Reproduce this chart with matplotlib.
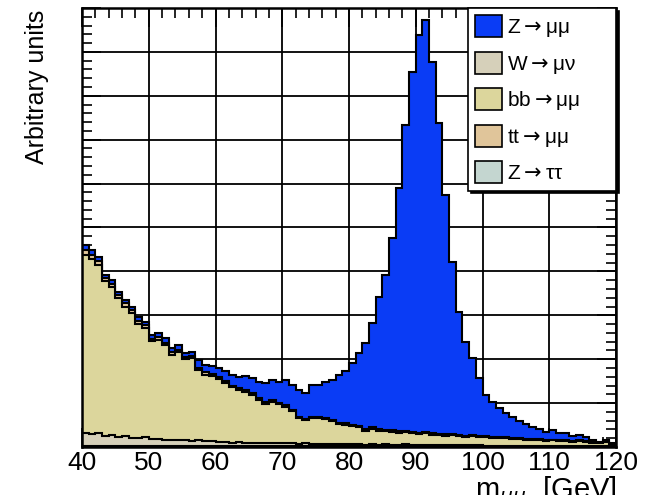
"""
Dimuon invariant mass spectrum, stacked MC samples (ROOT style)
"""

import numpy as np
import matplotlib
matplotlib.use('Agg')
import matplotlib.pyplot as plt
from matplotlib.patches import Patch
from matplotlib.ticker import MultipleLocator

plt.rcParams['font.family'] = ['Liberation Sans', 'DejaVu Sans']

# bin edges 40..120 GeV, 1 GeV bins
mass_edges = np.arange(40, 121, 1)

# per-sample contents, bins 40..119 (arbitrary units)
z_tautau = [0.03] * 20 + [0.02] * 40 + [0.01] * 20

w_munu = [0.30, 0.26, 0.28, 0.22, 0.25, 0.20, 0.21, 0.18, 0.17, 0.19,
          0.15, 0.16, 0.13, 0.14, 0.12, 0.13, 0.11, 0.12, 0.10, 0.11,
          0.09, 0.10, 0.08, 0.09, 0.08, 0.07, 0.08, 0.07, 0.06, 0.07,
          0.06, 0.06, 0.05, 0.06, 0.05, 0.05, 0.04, 0.05, 0.04, 0.05,
          0.04, 0.04, 0.03, 0.04, 0.03, 0.04, 0.03, 0.03, 0.04, 0.03,
          0.03, 0.03, 0.03, 0.03, 0.03, 0.03, 0.03, 0.03, 0.03, 0.03,
          0.02, 0.02, 0.02, 0.02, 0.02, 0.02, 0.02, 0.02, 0.02, 0.02,
          0.02, 0.02, 0.02, 0.02, 0.02, 0.02, 0.02, 0.02, 0.02, 0.02]

bb_mumu = [4.05, 3.99, 3.84, 3.52, 3.36, 3.16, 2.95, 2.84, 2.61, 2.48,
           2.23, 2.25, 2.16, 1.93, 2.02, 1.84, 1.88, 1.60, 1.52, 1.48,
           1.45, 1.34, 1.26, 1.19, 1.16, 1.09, 0.97, 0.90, 0.95, 0.88,
           0.84, 0.73, 0.59, 0.53, 0.58, 0.58, 0.58, 0.52, 0.46, 0.44,
           0.41, 0.39, 0.32, 0.36, 0.32, 0.30, 0.30, 0.28, 0.28, 0.26,
           0.25, 0.26, 0.23, 0.22, 0.21, 0.22, 0.19, 0.18, 0.19, 0.17,
           0.19, 0.18, 0.17, 0.17, 0.15, 0.16, 0.14, 0.13, 0.13, 0.11,
           0.12, 0.10, 0.10, 0.09, 0.10, 0.08, 0.06, 0.05, 0.08, 0.02]

tt_mumu = [0.10, 0.10, 0.09, 0.09, 0.08, 0.08, 0.08, 0.07, 0.07, 0.07,
           0.06, 0.06, 0.06, 0.06, 0.05, 0.05, 0.05, 0.05, 0.05, 0.04,
           0.04, 0.04, 0.04, 0.04, 0.04, 0.04, 0.04, 0.04, 0.04, 0.04,
           0.04, 0.03, 0.03, 0.03, 0.03, 0.03, 0.03, 0.03, 0.03, 0.03,
           0.03, 0.03, 0.03, 0.03, 0.03, 0.03, 0.03, 0.03, 0.03, 0.03,
           0.03, 0.03, 0.03, 0.03, 0.03, 0.03, 0.03, 0.03, 0.03, 0.03,
           0.02, 0.02, 0.02, 0.02, 0.02, 0.02, 0.02, 0.02, 0.02, 0.02,
           0.02, 0.02, 0.02, 0.02, 0.02, 0.02, 0.02, 0.02, 0.02, 0.02]

z_mumu = [0.12, 0.11, 0.08, 0.06, 0.08, 0.07, 0.08, 0.08, 0.09, 0.08,
          0.08, 0.10, 0.10, 0.09, 0.10, 0.10, 0.10, 0.18, 0.17, 0.19,
          0.19, 0.22, 0.24, 0.26, 0.32, 0.35, 0.37, 0.43, 0.46, 0.47,
          0.57, 0.57, 0.61, 0.59, 0.73, 0.73, 0.81, 0.91, 1.09, 1.19,
          1.41, 1.66, 1.97, 2.37, 3.02, 3.53, 4.38, 5.54, 6.96, 8.20,
          9.05, 9.39, 8.46, 7.08, 5.45, 3.91, 2.81, 2.13, 1.76, 1.32,
          0.94, 0.80, 0.66, 0.55, 0.49, 0.39, 0.33, 0.28, 0.22, 0.19,
          0.22, 0.16, 0.17, 0.11, 0.12, 0.09, 0.05, 0.02, 0.03, 0.02]

# stack order bottom -> top
samples = [z_tautau, w_munu, bb_mumu, tt_mumu, z_mumu]
colors = ['#c4d6d0', '#d6d0ba', '#dcd69c', '#e0c59a', '#0a3cf5']
labels = ['Z$\\rightarrow$\u03c4\u03c4', 'W$\\rightarrow$\u03bc\u03bd',
          'bb$\\rightarrow$\u03bc\u03bc', 'tt$\\rightarrow$\u03bc\u03bc',
          'Z$\\rightarrow$\u03bc\u03bc']
# legend order as in the original plot
legend_order = [4, 1, 2, 3, 0]

fig = plt.figure(figsize=(6.46, 4.95), dpi=100)
ax = fig.add_axes([82 / 646, 1 - 447 / 495, 534 / 646, 439 / 495])

# cumulative histograms, drawn largest first like THStack
cumul = np.cumsum(np.array(samples), axis=0)
for i in range(len(samples) - 1, -1, -1):
    ax.stairs(cumul[i], mass_edges, fill=True, facecolor=colors[i],
              edgecolor='black', linewidth=1.5, zorder=2)

ax.set_xlim(40, 120)
ax.set_ylim(0, 10)

ax.xaxis.set_major_locator(MultipleLocator(10))
ax.xaxis.set_minor_locator(MultipleLocator(2))
ax.yaxis.set_major_locator(MultipleLocator(1))
ax.yaxis.set_minor_locator(MultipleLocator(0.2))
ax.tick_params(which='both', direction='in', top=True, right=True, width=1.2)
ax.tick_params(which='major', length=14)
ax.tick_params(which='minor', length=7)
ax.tick_params(axis='x', labelsize=19, pad=3)
ax.tick_params(axis='y', labelleft=False)

ax.set_axisbelow(True)
ax.grid(True, which='major', color='black', linewidth=1.3, zorder=0)
for sp in ax.spines.values():
    sp.set_linewidth(1.8)
    sp.set_zorder(5)

fig.text(37 / 646, 1 - 10 / 495, 'Arbitrary units', rotation=90,
         ha='center', va='top', fontsize=18)
fig.text(617 / 646, 1 - 498 / 495, r'm$_{\mu\mu}$  [GeV]', ha='right',
         va='baseline', fontsize=21)

handles = [Patch(facecolor=colors[i], edgecolor='black', linewidth=1.2)
           for i in legend_order]
leg_labels = [labels[i] for i in legend_order]
leg_x0 = (468 - 82) / 534
leg = ax.legend(handles, leg_labels, loc='upper left',
                bbox_to_anchor=(leg_x0, 0, 1 - leg_x0, 1), mode='expand',
                borderaxespad=0, fontsize=15, handlelength=1.3, handleheight=1.25,
                labelspacing=0.6, handletextpad=0.2, borderpad=0.35,
                fancybox=False, framealpha=1, edgecolor='black',
                shadow={'color': 'black', 'alpha': 1, 'ox': 2, 'oy': -2})
leg.get_frame().set_linewidth(1.2)
leg.set_zorder(10)

fig.savefig('out.png', dpi=100)
